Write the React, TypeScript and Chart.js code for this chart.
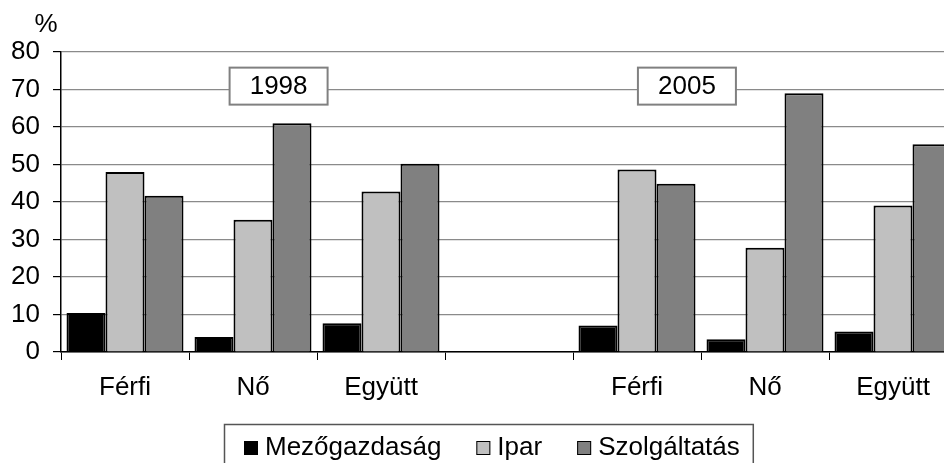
import React, { useEffect, useRef } from "react";
import { Chart, registerables } from "chart.js";

Chart.register(...registerables);

const categories = ["Férfi", "Nő", "Együtt", "", "Férfi", "Nő", "Együtt"];
const seriesNames = ["Mezőgazdaság", "Ipar", "Szolgáltatás"];
const mezogazdasag = [10.4, 4.0, 7.7, null, 7.1, 3.4, 5.5];
const ipar = [48.0, 35.3, 42.8, null, 48.7, 27.8, 39.1];
const szolgaltatas = [41.7, 61.0, 50.2, null, 44.9, 69.0, 55.4];
const seriesColors = ["#000000", "#C0C0C0", "#808080"];
const yMin = 0;
const yMax = 80;
const yStep = 10;
const unitLabel = "%";
const yearLabels = ["1998", "2005"];
const yearPositions = [1.2, 4.39];
const yearLevel = 70.9;

const FONT = '"Liberation Sans", Arial, sans-serif';
const FS = 26;

export default function App() {
  const ref = useRef<HTMLCanvasElement | null>(null);

  useEffect(() => {
    const canvas = ref.current;
    if (!canvas) return;

    const overlay = {
      id: "overlay",
      afterDraw(chart: any) {
        const ctx = chart.ctx;
        const xs = chart.scales.x;
        const ys = chart.scales.y;
        ctx.save();
        // unit label
        ctx.font = `${FS}px ${FONT}`;
        ctx.fillStyle = "#000";
        ctx.textAlign = "center";
        ctx.textBaseline = "middle";
        ctx.fillText(unitLabel, 46, 25);

        // year boxes
        yearLabels.forEach((lab, i) => {
          const cx = xs.getPixelForValue(yearPositions[i]);
          const cy = ys.getPixelForValue(yearLevel);
          const w = 98;
          const h = 37;
          ctx.fillStyle = "#fff";
          ctx.fillRect(cx - w / 2, cy - h / 2, w, h);
          ctx.strokeStyle = "#808080";
          ctx.lineWidth = 2;
          ctx.strokeRect(cx - w / 2, cy - h / 2, w, h);
          ctx.fillStyle = "#000";
          ctx.font = `${FS}px ${FONT}`;
          ctx.textAlign = "center";
          ctx.textBaseline = "middle";
          ctx.fillText(lab, cx, cy + 1);
        });

        // legend
        ctx.font = `${FS}px ${FONT}`;
        const left = 224;
        const top = 424;
        let x = left + 20;
        const positions: number[] = [];
        seriesNames.forEach((name) => {
          positions.push(x);
          x += 22 + ctx.measureText(name).width + 34;
        });
        const right = x - 34 + 12;
        ctx.strokeStyle = "#555";
        ctx.lineWidth = 1.5;
        ctx.strokeRect(left + 0.5, top + 0.5, right - left, 80);
        seriesNames.forEach((name, i) => {
          const px = positions[i];
          ctx.fillStyle = seriesColors[i];
          ctx.fillRect(px, 441, 14, 14);
          ctx.strokeStyle = "#000";
          ctx.lineWidth = 1;
          ctx.strokeRect(px + 0.5, 441.5, 13, 13);
          ctx.fillStyle = "#000";
          ctx.textAlign = "left";
          ctx.textBaseline = "middle";
          ctx.fillText(name, px + 21, 448);
        });
        ctx.restore();
      },
    };

    const series = [mezogazdasag, ipar, szolgaltatas];
    const chart = new Chart(canvas, {
      type: "bar",
      data: {
        labels: categories,
        datasets: series.map((d, i) => ({
          label: seriesNames[i],
          data: d,
          backgroundColor: seriesColors[i],
          borderColor: "#000",
          borderWidth: 2,
          categoryPercentage: 0.914,
          barPercentage: 1.0,
        })),
      },
      options: {
        responsive: false,
        animation: false,
        devicePixelRatio: 1,
        layout: { padding: { top: 52, bottom: 51, left: 0, right: 3 } },
        plugins: {
          legend: { display: false },
          tooltip: { enabled: false },
          title: { display: false },
        },
        scales: {
          x: {
            ticks: {
              color: "#000",
              font: { family: FONT, size: FS },
              padding: 12,
              maxRotation: 0,
              autoSkip: false,
            },
            grid: {
              drawOnChartArea: false,
              drawTicks: true,
              tickLength: 8,
              color: "#000",
              offset: true,
            },
            border: { color: "#000", width: 1.5 },
            afterFit: (s: any) => {
              s.height = 60;
            },
          },
          y: {
            min: yMin,
            max: yMax,
            ticks: {
              stepSize: yStep,
              color: "#000",
              font: { family: FONT, size: FS },
              padding: 13,
            },
            grid: {
              color: "#8a8a8a",
              tickColor: "#000",
              tickLength: 8,
              lineWidth: 1.2,
            },
            border: { color: "#000", width: 1.5 },
            afterFit: (s: any) => {
              s.width = 61;
            },
          },
        },
      },
      plugins: [overlay],
    });
    return () => chart.destroy();
  }, []);

  return (
    <div
      style={{
        position: "fixed",
        left: 0,
        top: 0,
        width: 944,
        height: 463,
        overflow: "hidden",
        background: "#fff",
      }}
    >
      <canvas ref={ref} width={960} height={463} style={{ display: "block" }} />
    </div>
  );
}
